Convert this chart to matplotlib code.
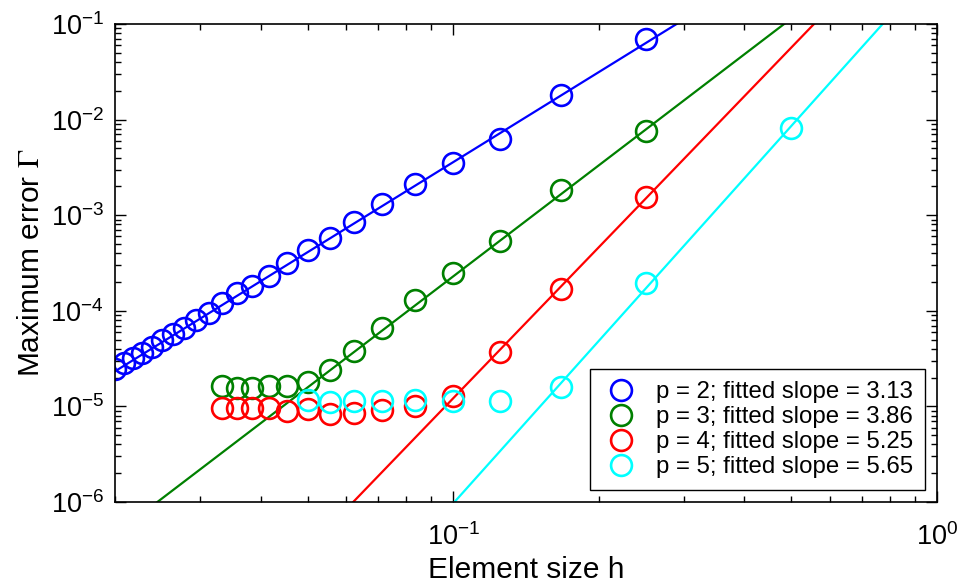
import numpy as np
import matplotlib
matplotlib.use("Agg")
import matplotlib.pyplot as plt
from matplotlib.ticker import LogLocator, NullFormatter

plt.rcParams['font.family'] = ['Liberation Sans', 'DejaVu Sans']
plt.rcParams['mathtext.fontset'] = 'stix'

# number of elements per side -> element size h = 1/n
n_p2 = [4, 6, 8, 10, 12, 14, 16, 18, 20, 22, 24, 26, 28, 30,
        32, 34, 36, 38, 40, 42, 44, 46, 48, 50]
err_p2 = [6.96e-2, 1.81e-2, 6.27e-3, 3.52e-3, 2.12e-3, 1.31e-3, 8.49e-4, 5.78e-4,
          4.33e-4, 3.16e-4, 2.31e-4, 1.82e-4, 1.53e-4, 1.21e-4, 9.5e-5, 8.0e-5,
          6.6e-5, 5.7e-5, 4.95e-5, 4.18e-5, 3.62e-5, 3.21e-5, 2.84e-5, 2.46e-5]

n_p3 = [4, 6, 8, 10, 12, 14, 16, 18, 20, 22, 24, 26, 28, 30]
err_p3 = [7.6e-3, 1.84e-3, 5.37e-4, 2.48e-4, 1.30e-4, 6.6e-5, 3.8e-5, 2.40e-5,
          1.80e-5, 1.63e-5, 1.63e-5, 1.56e-5, 1.56e-5, 1.63e-5]

n_p4 = [4, 6, 8, 10, 12, 14, 16, 18, 20, 22, 24, 26, 28, 30]
err_p4 = [1.55e-3, 1.69e-4, 3.71e-5, 1.29e-5, 1.01e-5, 9.2e-6, 8.5e-6, 8.3e-6,
          9.4e-6, 8.95e-6, 9.6e-6, 9.6e-6, 9.6e-6, 9.6e-6]

n_p5 = [2, 4, 6, 8, 10, 12, 14, 16, 18, 20]
err_p5 = [8.17e-3, 1.95e-4, 1.6e-5, 1.14e-5, 1.14e-5, 1.17e-5, 1.14e-5,
          1.14e-5, 1.11e-5, 1.17e-5]

orders = [2, 3, 4, 5]
fit_slopes = [3.13, 3.86, 5.25, 5.65]
fit_log_intercepts = [0.685, 0.22, 0.335, -0.365]   # log10 of error at h = 1
colors = ['#0000ff', '#008000', '#ff0000', '#00ffff']

fig = plt.figure(figsize=(9.63, 5.86), dpi=100)
ax = fig.add_axes([0.1194, 0.1433, 0.8536, 0.8157])

h_line = np.array([0.02, 1.0])
series = [(n_p2, err_p2), (n_p3, err_p3), (n_p4, err_p4), (n_p5, err_p5)]
for (n, err), p, s, c0, col in zip(series, orders, fit_slopes, fit_log_intercepts, colors):
    h = 1.0 / np.array(n, dtype=float)
    ax.plot(h, err, linestyle='none', marker='o', markersize=15,
            markerfacecolor='none', markeredgecolor=col, markeredgewidth=1.9,
            label='p = %d; fitted slope = %.2f' % (p, s))
    ax.plot(h_line, 10 ** c0 * h_line ** s, color=col, linewidth=1.6)

ax.set_xscale('log')
ax.set_yscale('log')
ax.set_xlim(0.02, 1)
ax.set_ylim(1e-6, 1e-1)

ax.xaxis.set_minor_locator(LogLocator(base=10, subs=np.arange(2, 10)))
ax.yaxis.set_minor_locator(LogLocator(base=10, subs=np.arange(2, 10)))
ax.xaxis.set_minor_formatter(NullFormatter())
ax.tick_params(which='both', direction='in', top=True, right=True,
               labelsize=19.5, width=1)
ax.tick_params(which='major', length=8)
ax.tick_params(which='minor', length=4)
ax.tick_params(axis='x', pad=15)
ax.tick_params(axis='y', pad=8)
for sp in ax.spines.values():
    sp.set_linewidth(1.2)

ax.set_xlabel('Element size h', fontsize=21.5, labelpad=4)
ax.set_ylabel(r'Maximum error $\Gamma$', fontsize=21.5, labelpad=4)

leg = ax.legend(loc='lower right', fontsize=17.3, frameon=True, fancybox=False,
                edgecolor='black', framealpha=1, borderaxespad=0.5,
                handletextpad=0.65, labelspacing=0.12, borderpad=0.5,
                handlelength=1.6)
leg.get_frame().set_linewidth(1.0)

fig.savefig('out.png', dpi=100)
